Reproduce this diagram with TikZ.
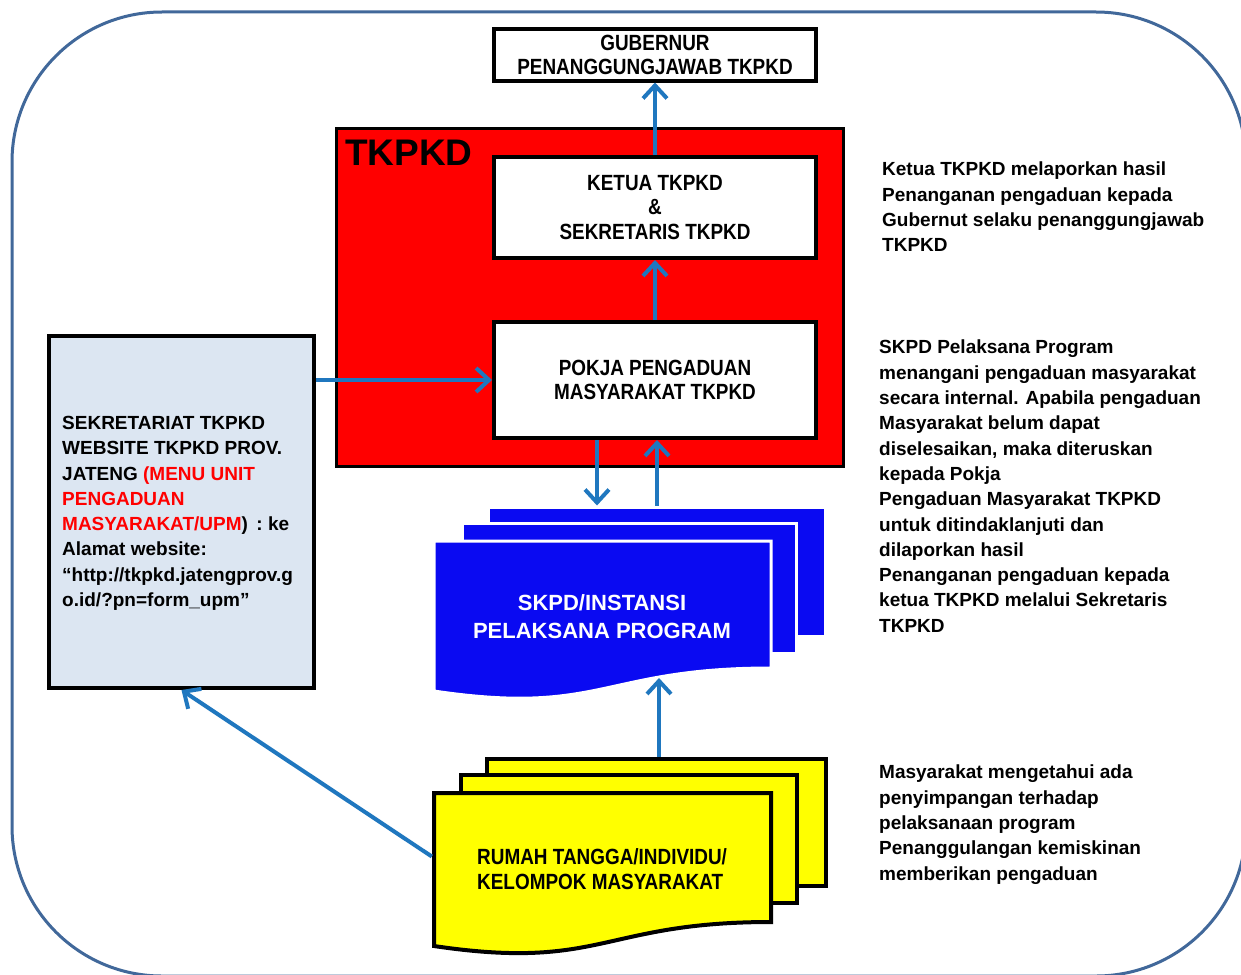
\documentclass[tikz,border=0pt]{standalone}
\usepackage{fontspec}
\setmainfont{Liberation Sans}
\newfontfamily\boxfnt[FakeStretch=0.86]{Liberation Sans}
\usetikzlibrary{arrows.meta,calc}
\definecolor{arrblue}{HTML}{1F77BF}
\definecolor{framecol}{HTML}{41689A}
\definecolor{lightbox}{HTML}{DCE6F2}
\definecolor{docblue}{HTML}{0A0AF2}
\definecolor{docyellow}{HTML}{FFFF00}
\newcommand\txtA{\fontsize{19}{25.3}\selectfont\bfseries}
\newcommand\txtB{\boxfnt\fontsize{22}{24.5}\selectfont\bfseries}
\begin{document}
\begin{tikzpicture}[x=1pt,y=-1pt,
  arr/.style={draw=arrblue, line width=4pt, -{Straight Barb[length=13pt,width=24pt,line width=4pt]}},
  wbox/.style={draw=black, fill=white, line width=4pt, inner sep=0pt, align=center, font=\txtB},
  bsheet/.style={draw=white, fill=docblue, line width=3pt, inner sep=0pt},
  ysheet/.style={draw=black, fill=docyellow, line width=4pt, inner sep=0pt},
  sidetext/.style={anchor=north west, inner sep=0pt, align=left, font=\txtA}]
\useasboundingbox (0,0) rectangle (1241,974);
\fill[white] (0,0) rectangle (1241,974);
% outer frame
\draw[draw=framecol, line width=3pt, rounded corners=150pt] (12,12) rectangle (1246,976);

% red TKPKD block
\node[draw=black, fill=red, line width=3.5pt, minimum width=507pt, minimum height=338pt, inner sep=0pt] (tkpkd) at (590,297.5) {};
\node[anchor=west, inner sep=0pt, font=\fontsize{37}{40}\selectfont\bfseries] (tkpkdlbl) at (345,153) {TKPKD};

% white boxes
\node[wbox, minimum width=322pt, minimum height=51pt] (gub) at (655,55) {GUBERNUR\\PENANGGUNGJAWAB TKPKD};
\node[wbox, minimum width=322pt, minimum height=101pt] (ketua) at (655,207.5) {KETUA TKPKD\\\&\\SEKRETARIS TKPKD};
\node[wbox, minimum width=322pt, minimum height=116pt] (pokja) at (655,380) {POKJA PENGADUAN\\MASYARAKAT TKPKD};

% left box
\node[draw=black, fill=lightbox, line width=4pt, minimum width=265pt, minimum height=352pt, inner sep=0pt] (sek) at (181.5,512) {};
\node[sidetext] (sektext) at (62,416) {SEKRETARIAT TKPKD\\WEBSITE TKPKD PROV.\\JATENG \textcolor{red}{(MENU UNIT}\\\textcolor{red}{PENGADUAN}\\\textcolor{red}{MASYARAKAT/UPM}) \,: ke\\Alamat website:\\“http://tkpkd.jatengprov.g\\o.id/?pn=form\_upm”};

% blue multi-document
\node[bsheet, minimum width=337pt, minimum height=129pt] (bbk) at (656.5,571.5) {};
\node[bsheet, minimum width=334pt, minimum height=130pt] (bmid) at (629,588) {};
\path[bsheet] (434,541) -- (771,541) -- (771,668) .. controls (602,668) and (602,716) .. (434,691) -- cycle;
\node[inner sep=0pt, align=center, text=white, font=\fontsize{22}{28}\selectfont\bfseries] (skpd) at (602,617) {SKPD/INSTANSI\\PELAKSANA PROGRAM};
\coordinate (bwave) at (659,678);

% yellow multi-document
\node[ysheet, minimum width=339pt, minimum height=127pt] (ybk) at (656.5,822.5) {};
\node[ysheet, minimum width=336pt, minimum height=128pt] (ymid) at (629,839) {};
\path[ysheet] (434,793) -- (771,793) -- (771,922) .. controls (602,922) and (602,971) .. (434,946) -- cycle;
\node[inner sep=0pt, minimum width=341pt, minimum height=131pt] (yfr) at (602.5,856.5) {};
\node[anchor=west, inner sep=0pt, align=left, font=\txtB] (rumah) at (477,869) {RUMAH TANGGA/INDIVIDU/\\KELOMPOK MASYARAKAT};

% connectors
\draw[arr] (ketua.north) -- (gub.south);
\draw[arr] (pokja.north) -- (ketua.south);
\draw[arr] (sek.east |- pokja.west) -- (pokja.west);
\draw[arr] ([xshift=-58pt]pokja.south) -- ([xshift=-59.5pt]bbk.north);
\draw[arr] ([xshift=0.5pt]bbk.north) -- ([xshift=2pt]pokja.south);
\draw[arr] ([xshift=2.5pt]ybk.north) -- (bwave);
\draw[arr] (yfr.west) -- (sek.south);

% right texts
\node[sidetext] (note1) at (882,162) {Ketua TKPKD melaporkan hasil\\Penanganan pengaduan kepada\\Gubernut selaku penanggungjawab\\TKPKD};
\node[sidetext] (note2) at (879,340) {SKPD Pelaksana Program\\menangani pengaduan masyarakat\\secara internal. Apabila pengaduan\\Masyarakat belum dapat\\diselesaikan, maka diteruskan\\kepada Pokja\\Pengaduan Masyarakat TKPKD\\untuk ditindaklanjuti dan\\dilaporkan hasil\\Penanganan pengaduan kepada\\ketua TKPKD melalui Sekretaris\\TKPKD};
\node[sidetext] (note3) at (879,765) {Masyarakat mengetahui ada\\penyimpangan terhadap\\pelaksanaan program\\Penanggulangan kemiskinan\\memberikan pengaduan};
\end{tikzpicture}
\end{document}
